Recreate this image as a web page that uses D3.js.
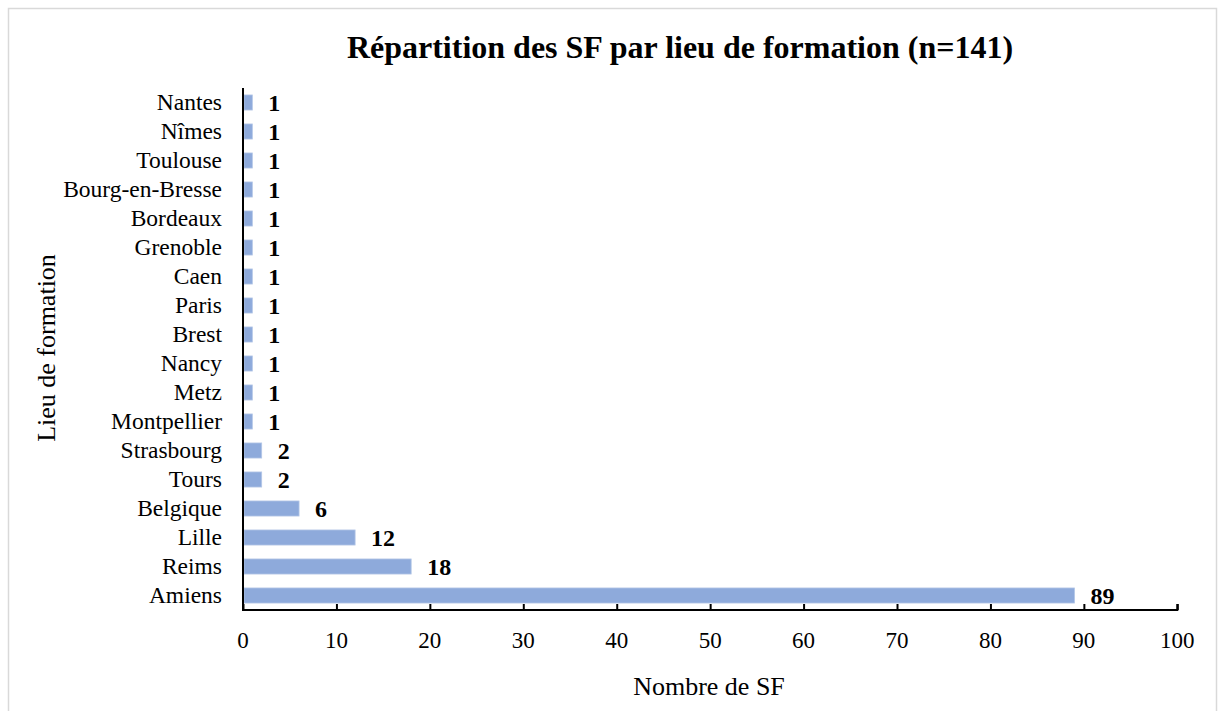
<!DOCTYPE html>
<html>
<head>
<meta charset="utf-8">
<script src="https://cdn.jsdelivr.net/npm/d3@7"></script>
<style>
  body { margin: 0; background: #fff; }
  text { font-family: 'Liberation Serif', 'Times New Roman', serif; fill: #000; }
</style>
</head>
<body>
<script>
// data, top to bottom as drawn
const lieux = ['Nantes', 'Nîmes', 'Toulouse', 'Bourg-en-Bresse', 'Bordeaux', 'Grenoble', 'Caen',
    'Paris', 'Brest', 'Nancy', 'Metz', 'Montpellier', 'Strasbourg', 'Tours', 'Belgique',
    'Lille', 'Reims', 'Amiens'];
const effectifs = [1, 1, 1, 1, 1, 1, 1, 1, 1, 1, 1, 1, 2, 2, 6, 12, 18, 89];
const xTicks = [0, 10, 20, 30, 40, 50, 60, 70, 80, 90, 100];

const W = 1218, H = 711;
const svg = d3.select('body').append('svg')
    .attr('width', W)
    .attr('height', H);

// chart border
svg.append('rect')
    .attr('x', 8.5).attr('y', 8.5)
    .attr('width', 1208).attr('height', 720)
    .attr('fill', 'white')
    .attr('stroke', '#d9d9d9')
    .attr('stroke-width', 1.5);

const x = d3.scaleLinear().domain([0, 100]).range([243, 1177.3]);
const y = d3.scaleBand()
    .domain(lieux)
    .range([88, 610])
    .paddingInner(0.48)
    .paddingOuter(0.24);

const data = lieux.map((l, i) => ({ lieu: l, n: effectifs[i] }));

// bars
svg.append('g').selectAll('rect')
    .data(data)
    .join('rect')
    .attr('x', x(0) + 1)
    .attr('y', d => y(d.lieu))
    .attr('width', d => x(d.n) - x(0) - 1)
    .attr('height', y.bandwidth())
    .attr('fill', '#8eaadb')
    .attr('stroke', '#b4c7e7')
    .attr('stroke-width', 0.8);

// value labels
svg.append('g').selectAll('text')
    .data(data)
    .join('text')
    .attr('x', d => x(d.n) + 16)
    .attr('y', d => y(d.lieu) + y.bandwidth() / 2)
    .attr('dy', '0.36em')
    .style('font-size', '24px')
    .style('font-weight', 'bold')
    .text(d => d.n);

// x axis (ticks pointing up)
const xAxis = svg.append('g')
    .attr('transform', 'translate(0,610)')
    .call(d3.axisTop(x).tickValues(xTicks).tickSize(6).tickFormat(''));
xAxis.select('.domain').attr('stroke', '#000').attr('stroke-width', 2).attr('d', `M${x(0)},-6V0H${x(100)}V-6`);
xAxis.selectAll('.tick line').attr('stroke', '#000').attr('stroke-width', 2);

svg.append('g').selectAll('text')
    .data(xTicks)
    .join('text')
    .attr('x', d => x(d))
    .attr('y', 640)
    .attr('dy', '0.35em')
    .attr('text-anchor', 'middle')
    .style('font-size', '23px')
    .text(d => d);

// y axis
const yAxis = svg.append('g')
    .attr('transform', `translate(${x(0)},0)`)
    .call(d3.axisLeft(y).tickSize(0).tickPadding(21));
yAxis.select('.domain').attr('stroke', '#000').attr('stroke-width', 2).attr('d', 'M0,88V610');
yAxis.selectAll('.tick text')
    .style('font-size', '23.5px')
    .style('font-family', "'Liberation Serif', 'Times New Roman', serif");

// titles
svg.append('text')
    .attr('x', 680)
    .attr('y', 47)
    .attr('dy', '0.35em')
    .attr('text-anchor', 'middle')
    .style('font-size', '32px')
    .style('font-weight', 'bold')
    .text('Répartition des SF par lieu de formation (n=141)');

svg.append('text')
    .attr('transform', 'translate(46,348) rotate(-90)')
    .attr('dy', '0.35em')
    .attr('text-anchor', 'middle')
    .style('font-size', '26px')
    .text('Lieu de formation');

svg.append('text')
    .attr('x', 709)
    .attr('y', 686)
    .attr('dy', '0.35em')
    .attr('text-anchor', 'middle')
    .style('font-size', '26px')
    .text('Nombre de SF');
</script>
</body>
</html>
